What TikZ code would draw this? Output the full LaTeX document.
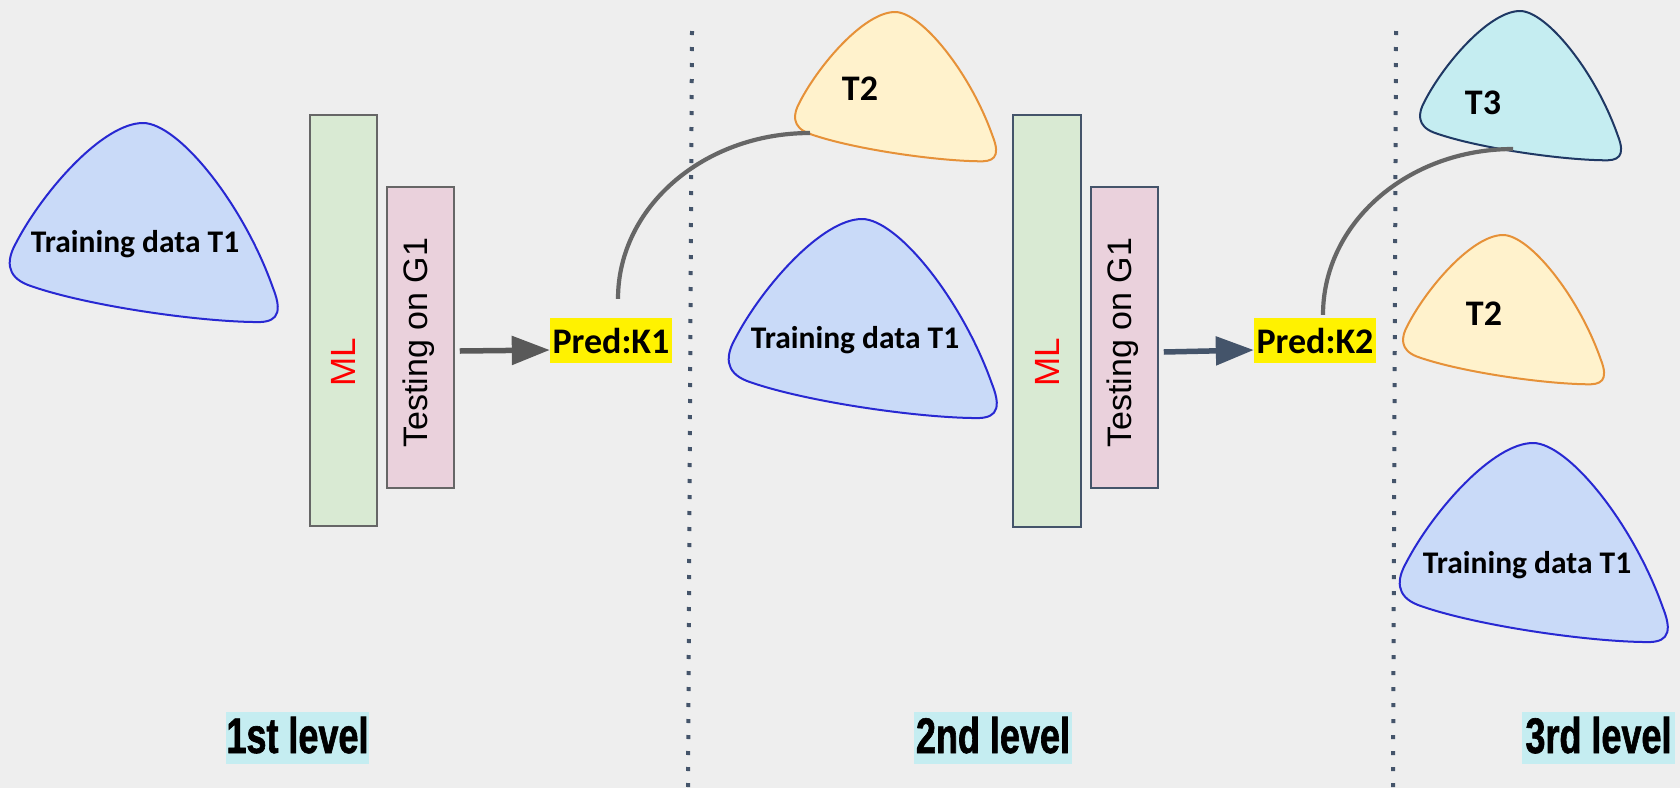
\documentclass[tikz,border=0pt]{standalone}
\usepackage{fontspec}
\usetikzlibrary{arrows.meta}
\newfontfamily\calfont{Carlito}
\newfontfamily\arialfont{Liberation Sans}
\newfontfamily\lvlfont[FakeStretch=0.72,FakeBold=1.2]{Liberation Sans}
\definecolor{bgc}{HTML}{EEEEEE}
\definecolor{bluefill}{HTML}{C9DAF8}
\definecolor{blueline}{HTML}{2828D2}
\definecolor{orfill}{HTML}{FFF2CC}
\definecolor{orline}{HTML}{E69138}
\definecolor{cyfill}{HTML}{C5EDF1}
\definecolor{navyline}{HTML}{1F3864}
\definecolor{greenfill}{HTML}{D9EAD3}
\definecolor{pinkfill}{HTML}{EAD1DC}
\definecolor{grayline}{HTML}{666666}
\definecolor{slate}{HTML}{44546A}
\definecolor{arrgray}{HTML}{595959}
\definecolor{curvegray}{HTML}{666666}
\begin{document}
\begin{tikzpicture}[x=1pt,y=-1pt,
  blob/.pic={\path[pic actions] (0,0) .. controls (35,0) and (100,80) .. (130,165)
     .. controls (142,195) and (130,200) .. (110,199)
     .. controls (50,198) and (-60,182) .. (-115,162)
     .. controls (-138,153) and (-136,136) .. (-127,120)
     .. controls (-100,68) and (-40,0) .. (0,0) -- cycle;},
  blueblob/.style={draw=blueline,fill=bluefill,line width=2pt},
  orblob/.style={draw=orline,fill=orfill,line width=2pt},
  cyblob/.style={draw=navyline,fill=cyfill,line width=2pt},
  blobtext/.style={anchor=base,inner sep=0pt,font=\calfont\bfseries\fontsize{31.5}{33}\selectfont},
  tlabel/.style={anchor=base,inner sep=0pt,font=\calfont\bfseries\fontsize{36}{38}\selectfont},
  mlbox/.style={draw,fill=greenfill,line width=1.5pt,minimum width=67pt,minimum height=411pt,inner sep=0pt},
  testbox/.style={draw,fill=pinkfill,line width=1.5pt,minimum width=67pt,minimum height=301pt,inner sep=0pt},
  mltext/.style={rotate=90,text=red,inner sep=0pt,font=\arialfont\fontsize{35}{37}\selectfont},
  testtext/.style={rotate=90,text=black,inner sep=0pt,font=\arialfont\fontsize{34}{36}\selectfont},
  predbox/.style={fill=yellow,minimum width=122pt,minimum height=45pt,inner sep=0pt,font=\calfont\bfseries\fontsize{36}{38}\selectfont},
  lvlbox/.style={fill=cyfill,minimum height=52pt,inner sep=0pt,text height=36pt,text depth=6pt,font=\lvlfont\bfseries\fontsize{50}{52}\selectfont},
  arr/.style={line width=5.5pt,-{Triangle[length=38pt,width=28pt]}},
  curve/.style={draw=curvegray,line width=4.2pt},
  sep/.style={draw=slate,line width=4pt,dash pattern=on 4pt off 12pt}
]
\fill[bgc] (0,0) rectangle (1680,788);
\useasboundingbox (0,0) rectangle (1680,788);

% separators
\draw[sep] (692,31) -- (688,788);
\draw[sep] (1396,31) -- (1393,788);

% blobs
\pic[blueblob] at (143,123) {blob};
\pic[orblob,scale=0.75] at (895,12) {blob};
\pic[blueblob] at (862,219) {blob};
\pic[cyblob,scale=0.75] at (1520,11) {blob};
\pic[orblob,scale=0.75] at (1503,235) {blob};
\pic[blueblob] at (1533,443) {blob};

\node[blobtext] (tr1) at (135,252) {Training data T1};
\node[blobtext] (tr2) at (855,348) {Training data T1};
\node[blobtext] (tr3) at (1527,573) {Training data T1};
\node[tlabel] (t2a) at (860,100) {T2};
\node[tlabel] (t3) at (1483,114) {T3};
\node[tlabel] (t2b) at (1484,325) {T2};

% level 1 boxes
\node[mlbox,draw=grayline] (ml1) at (343.5,320.5) {};
\node[testbox,draw=grayline] (test1) at (420.5,337.5) {};
\node[mltext] (mlt1) at (343.5,362.5) {ML};
\node[testtext] (tt1) at (419,342.5) {Testing on G1};

% level 2 boxes
\node[mlbox,draw=slate,minimum width=68pt,minimum height=412pt] (ml2) at (1047,321) {};
\node[testbox,draw=slate] (test2) at (1124.5,337.5) {};
\node[mltext] (mlt2) at (1047,362.5) {ML};
\node[testtext] (tt2) at (1123,342.5) {Testing on G1};

% predictions
\node[predbox] (pred1) at (611,340.5) {Pred:K1};
\node[predbox] (pred2) at (1315,340.5) {Pred:K2};

% arrows
\draw[arr,draw=arrgray,fill=arrgray] ([xshift=5pt,yshift=-13.5pt]test1.east) -- ([yshift=-9.5pt]pred1.west);
\draw[arr,draw=slate,fill=slate] ([xshift=5pt,yshift=-14.5pt]test2.east) -- ([yshift=-9.5pt]pred2.west);

% curves
\coordinate (c1) at (810,133);
\coordinate (c2) at (1513,149);
\draw[curve] ([xshift=7pt,yshift=19pt]pred1.north) .. controls +(0,-92) and +(-106,0) .. (c1);
\draw[curve] ([xshift=8pt,yshift=3pt]pred2.north) .. controls +(0,-92) and +(-105,0) .. (c2);

% level labels
\node[lvlbox,minimum width=143pt] (lv1) at (297.5,738) {1st level};
\node[lvlbox,minimum width=158pt] (lv2) at (993,738) {2nd level};
\node[lvlbox,minimum width=153pt] (lv3) at (1598.5,738) {3rd level};
\end{tikzpicture}
\end{document}
